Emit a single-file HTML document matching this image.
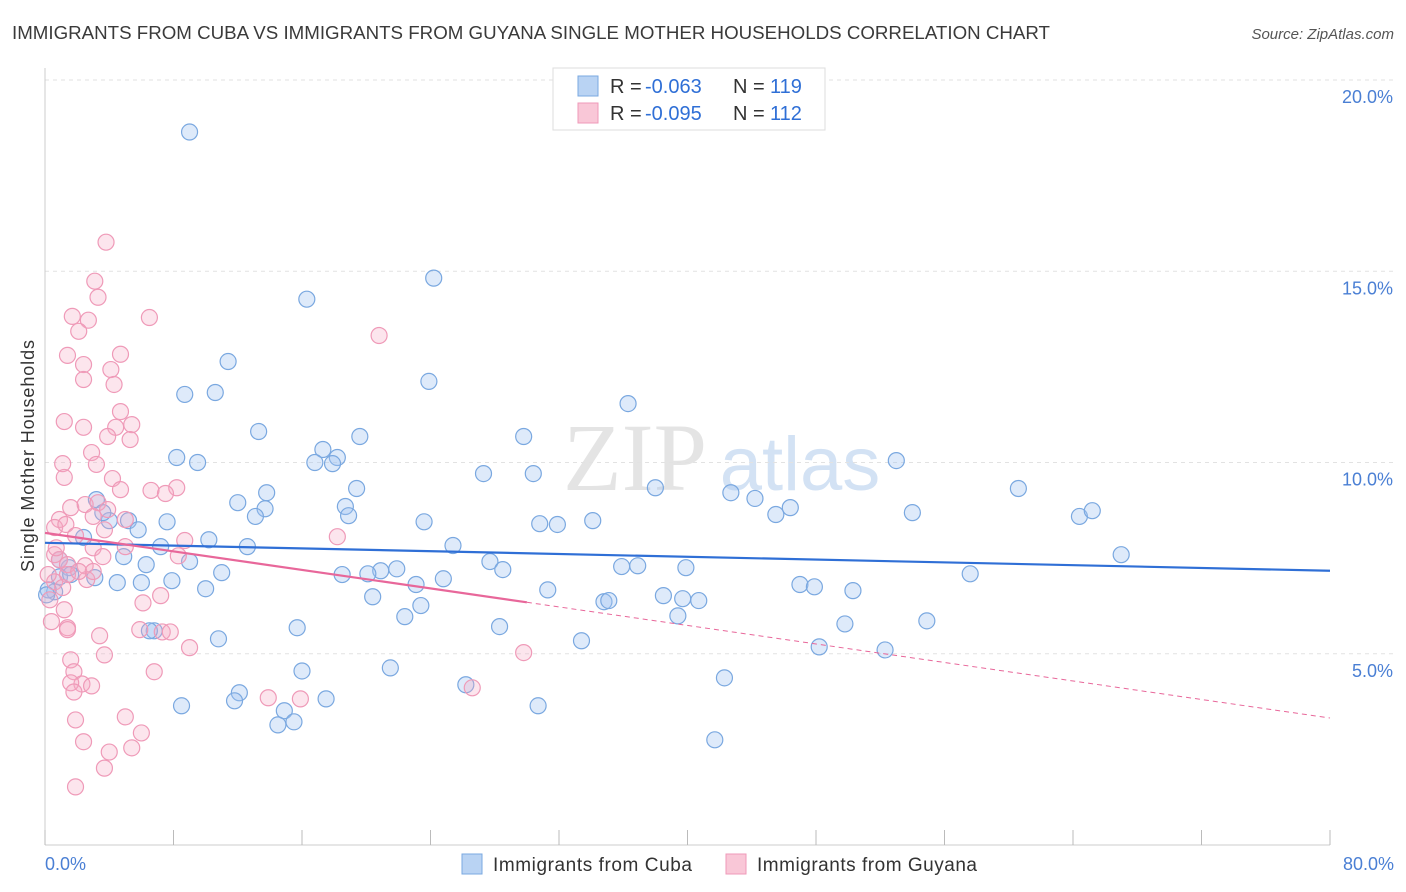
<!DOCTYPE html>
<html><head><meta charset="utf-8">
<style>
body{margin:0;background:#fff;font-family:"Liberation Sans",sans-serif;}
#wrap{position:relative;width:1406px;height:892px;overflow:hidden;}
svg{position:absolute;left:0;top:0;}
</style></head>
<body>
<div id="wrap">
<svg id="chart" width="1406" height="892">
  <text x="12" y="39" font-size="18" fill="#3a3a3a" textLength="1038" lengthAdjust="spacingAndGlyphs">IMMIGRANTS FROM CUBA VS IMMIGRANTS FROM GUYANA SINGLE MOTHER HOUSEHOLDS CORRELATION CHART</text>
  <text x="1394" y="39" font-size="15" fill="#555" font-style="italic" text-anchor="end">Source: ZipAtlas.com</text>
  <text transform="translate(34,456) rotate(-90)" font-size="18" fill="#333" text-anchor="middle" textLength="232">Single Mother Households</text>
  <g>
    <text x="635" y="490" font-size="96" font-family="Liberation Serif,serif" fill="#e4e4e4" text-anchor="middle">ZIP</text>
    <text x="800" y="490" font-size="76" fill="#d3e2f4" text-anchor="middle">atlas</text>
  </g>
  <g id="grid"></g>
  <g id="pts"></g>
  <g id="lines"></g>
  <g>
    <rect x="553" y="68" width="272" height="62" fill="#fff" stroke="#ddd"/>
    <rect x="578" y="76" width="20" height="20" fill="#b9d3f3" stroke="#7aa8e0"/>
    <rect x="578" y="103" width="20" height="20" fill="#f9c7d7" stroke="#ef9ab8"/>
    <g font-size="20">
      <text x="610" y="93" fill="#333">R =</text><text x="645" y="93" fill="#2f6fd6">-0.063</text>
      <text x="733" y="93" fill="#333">N =</text><text x="770" y="93" fill="#2f6fd6">119</text>
    </g>
    <g font-size="20">
      <text x="610" y="120" fill="#333">R =</text><text x="645" y="120" fill="#2f6fd6">-0.095</text>
      <text x="733" y="120" fill="#333">N =</text><text x="770" y="120" fill="#2f6fd6">112</text>
    </g>
  </g>
  <g>
    <rect x="462" y="854" width="20" height="20" fill="#b9d3f3" stroke="#7aa8e0"/>
    <text x="493" y="871" font-size="19" fill="#333" textLength="199">Immigrants from Cuba</text>
    <rect x="726" y="854" width="20" height="20" fill="#f9c7d7" stroke="#ef9ab8"/>
    <text x="757" y="871" font-size="19" fill="#333" textLength="220">Immigrants from Guyana</text>
  </g>
  <text x="45" y="870" font-size="18" fill="#4a7fd4">0.0%</text>
  <text x="1394" y="870" font-size="18" fill="#4a7fd4" text-anchor="end">80.0%</text>
</svg>
</div>
<script>
const yTicks=[5,10,15,20];
const xTicks=[0,8,16,24,32,40,48,56,64,72,80];
const cubaX=[9.0,24.2,16.3,11.4,23.9,8.7,10.6,36.3,13.3,29.8,19.6,17.3,18.2,8.2,9.5,16.8,17.9,53.0,27.3,30.4,38.0,42.7,44.2,60.6,13.8,19.4,12.0,3.2,13.7,18.7,18.9,13.1,45.5,46.4,54.0,64.4,65.2,5.2,4.0,7.6,23.6,30.8,31.9,34.1,3.6,5.8,2.4,10.2,7.2,12.6,25.4,67.0,4.9,6.3,9.0,20.9,21.9,27.7,28.5,35.9,36.9,39.9,18.5,20.1,11.0,1.5,0.9,3.1,4.5,6.0,7.9,10.0,23.1,24.8,31.3,57.6,47.0,47.9,50.3,20.4,23.4,22.4,34.8,35.1,38.5,39.7,40.7,0.6,0.2,39.4,6.8,6.5,15.7,28.3,10.8,33.4,49.8,54.9,48.2,52.3,16.0,21.5,42.3,12.1,11.8,26.2,8.5,17.5,30.7,14.9,14.5,15.5,41.7,0.1,0.9,1.6];
const cubaY=[18.64,14.82,14.27,12.64,12.12,11.78,11.83,11.54,10.81,10.68,10.68,10.34,10.13,10.13,10.0,10.0,9.97,10.05,9.71,9.71,9.34,9.21,9.06,9.32,9.21,9.32,8.95,9.03,8.79,8.85,8.61,8.59,8.64,8.82,8.69,8.59,8.74,8.48,8.48,8.45,8.45,8.4,8.38,8.48,8.69,8.24,8.04,7.98,7.8,7.8,7.83,7.59,7.54,7.33,7.41,7.17,7.22,7.41,7.2,7.28,7.3,7.25,7.07,7.09,7.12,7.25,7.01,6.99,6.86,6.86,6.91,6.7,6.81,6.96,6.67,7.09,6.81,6.75,6.65,6.49,6.26,5.97,6.36,6.39,6.52,6.44,6.39,6.62,6.67,5.99,5.6,5.6,5.68,5.71,5.39,5.34,5.78,5.86,5.18,5.1,4.55,4.63,4.37,3.98,3.77,4.19,3.64,3.82,3.64,3.51,3.14,3.22,2.75,6.54,7.46,7.07];
const guyX=[3.8,3.1,3.3,1.7,2.7,6.5,2.1,20.8,1.4,4.7,2.4,4.1,2.4,4.3,4.7,1.2,2.4,4.4,5.4,3.9,5.3,2.9,1.1,3.2,1.2,4.2,4.7,6.6,8.2,7.5,1.6,2.5,3.3,3.9,3.0,0.9,0.6,1.3,5.0,1.9,3.7,18.2,8.7,3.0,0.6,0.9,1.4,3.6,5.0,8.3,2.5,1.4,2.6,0.6,0.2,1.1,2.1,3.0,1.2,0.4,6.1,7.2,1.4,1.4,3.4,5.9,7.3,7.8,3.7,9.0,29.8,1.6,1.8,6.8,2.3,2.9,1.6,1.8,13.9,15.9,26.6,5.0,1.9,2.4,4.0,6.0,5.4,3.7,1.9,0.7,0.3];
const guyY=[15.76,14.74,14.32,13.82,13.72,13.79,13.43,13.32,12.8,12.83,12.56,12.43,12.17,12.04,11.33,11.07,10.92,10.92,10.99,10.68,10.6,10.26,9.97,9.95,9.61,9.58,9.29,9.27,9.34,9.19,8.82,8.9,8.95,8.77,8.59,8.51,8.3,8.38,8.51,8.09,8.24,8.06,7.96,7.77,7.59,7.46,7.33,7.54,7.8,7.56,7.3,7.07,6.94,6.88,7.07,6.73,7.15,7.15,6.15,5.84,6.33,6.52,5.68,5.63,5.47,5.63,5.57,5.57,4.97,5.16,5.03,4.84,4.53,4.53,4.21,4.16,4.24,4.0,3.85,3.82,4.11,3.35,3.27,2.7,2.43,2.93,2.54,2.01,1.52,7.77,6.41];
const cubaTrend=[7.9,7.17];
const guyTrend=[8.16,3.32];
const guySolidEnd=30;

const X=v=>45+v/80*1285;
const Y=v=>845-v*38.25;
const NS='http://www.w3.org/2000/svg';
function mk(tag,attrs,parent){const e=document.createElementNS(NS,tag);for(const k in attrs)e.setAttribute(k,attrs[k]);parent.appendChild(e);return e;}
const grid=document.getElementById('grid');
yTicks.forEach(t=>{
  const l=mk('line',{x1:45,x2:1394,y1:Y(t),y2:Y(t),stroke:'#e2e2e2','stroke-dasharray':'4,4'},grid);
  
  
  const tx=mk('text',{x:1393,y:Y(t)+23,'font-size':18,fill:'#4a7fd4','text-anchor':'end'},grid);
  tx.textContent=t.toFixed(1)+'%';
  
  
});
const ax=mk('line',{x1:45,x2:45,y1:68,y2:845,stroke:'#ccc'},grid);


const bx=mk('line',{x1:45,x2:1330,y1:845,y2:845,stroke:'#ccc'},grid);


xTicks.forEach(t=>{
  const l=mk('line',{x1:X(t),x2:X(t),y1:830,y2:845,stroke:'#bbb'},grid);
  
  
});
const pts=document.getElementById('pts');
cubaX.forEach((v,i)=>{
  const c=mk('circle',{cx:X(v),cy:Y(cubaY[i]),r:8,fill:'rgba(160,196,240,0.35)',stroke:'#7aa8e0','stroke-width':1.2},pts);
  
  
});
guyX.forEach((v,i)=>{
  const c=mk('circle',{cx:X(v),cy:Y(guyY[i]),r:8,fill:'rgba(245,170,195,0.3)',stroke:'#ef9ab8','stroke-width':1.2},pts);
  
  
});
const lines=document.getElementById('lines');
const bl=mk('line',{x1:X(0),y1:Y(cubaTrend[0]),x2:X(80),y2:Y(cubaTrend[1]),stroke:'#2f6fd6','stroke-width':2.2},lines);


const gy=x=>guyTrend[0]+(guyTrend[1]-guyTrend[0])*x/80;
const pl=mk('line',{x1:X(0),y1:Y(gy(0)),x2:X(guySolidEnd),y2:Y(gy(guySolidEnd)),stroke:'#e8679a','stroke-width':2.2},lines);


const pd=mk('line',{x1:X(guySolidEnd),y1:Y(gy(guySolidEnd)),x2:X(80),y2:Y(gy(80)),stroke:'#e8679a','stroke-width':1,'stroke-dasharray':'5,4'},lines);


</script>
</body></html>
